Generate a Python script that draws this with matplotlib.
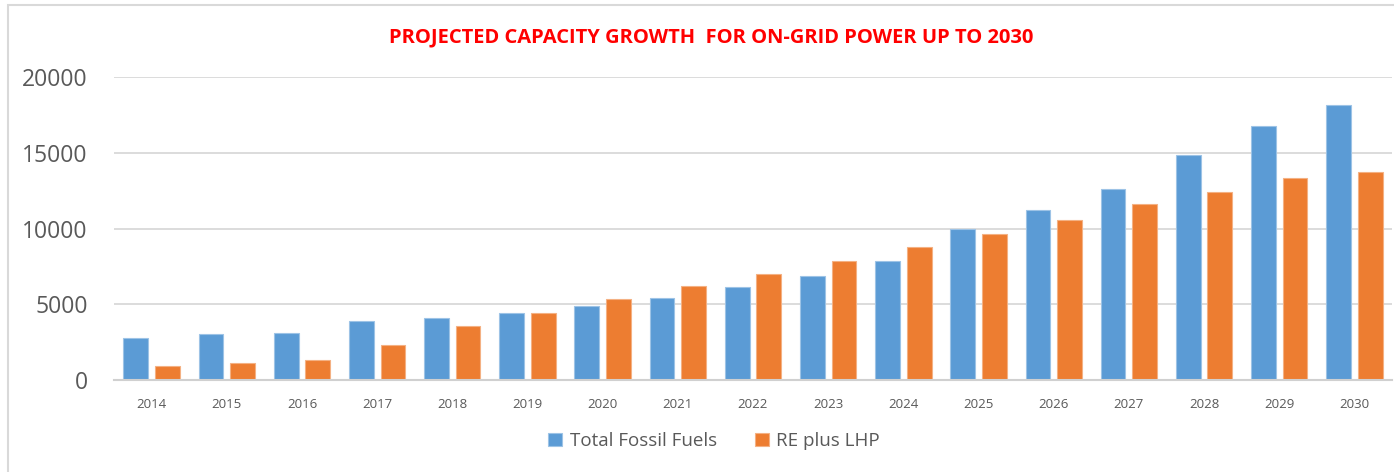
import matplotlib.pyplot as plt
import numpy as np
from matplotlib.patches import Rectangle

# ── Data ────────────────────────────────────────────────────────────────────
years = ['2014', '2015', '2016', '2017', '2018', '2019', '2020', '2021', '2022',
         '2023', '2024', '2025', '2026', '2027', '2028', '2029', '2030']
fossil = [2780, 3020, 3130, 3900, 4110, 4450, 4890, 5440, 6125,
          6895, 7885, 9980, 11195, 12620, 14840, 16735, 18160]
re_lhp = [905, 1125, 1320, 2335, 3560, 4450, 5330, 6210, 7005,
          7885, 8770, 9630, 10535, 11630, 12400, 13305, 13740]

BLUE = '#5B9BD5'
ORANGE = '#ED7D31'
GREY_TXT = '#595959'
FONT = ['Open Sans', 'DejaVu Sans']

# ── Figure ──────────────────────────────────────────────────────────────────
fig = plt.figure(figsize=(13.94, 4.72), dpi=100)
W, H = 1394, 472

# outer chart border (only top/left visible in the crop)
fig.patches.append(Rectangle((8 / W, -0.1), 1.2, (H - 5) / H + 0.1,
                             transform=fig.transFigure, fill=False,
                             edgecolor='#D9D9D9', linewidth=1.5))

ax = fig.add_axes([114 / W, (H - 380) / H, (1392 - 114) / W, 303 / H])

x = np.arange(len(years))
bw = 0.33
off = 0.21
ax.bar(x - off, fossil, bw, color=BLUE, edgecolor='#9DC3E6', linewidth=0.8,
       label='Total Fossil Fuels', zorder=3)
ax.bar(x + off, re_lhp, bw, color=ORANGE, edgecolor='#F4B183', linewidth=0.8,
       label='RE plus LHP', zorder=3)

ax.set_xlim(-0.5, len(years) - 0.5)
ax.set_ylim(0, 20000)
ax.set_yticks([0, 5000, 10000, 15000, 20000])
ax.yaxis.grid(True, color='#D9D9D9', linewidth=1.3, zorder=0)

for s in ['top', 'right', 'left']:
    ax.spines[s].set_visible(False)
ax.spines['bottom'].set_color('#D0D0D0')
ax.spines['bottom'].set_linewidth(1.5)
ax.spines['bottom'].set_zorder(4)

ax.set_xticks(x)
ax.set_xticklabels(years, fontsize=9.5, color=GREY_TXT, family=FONT)
ax.tick_params(axis='x', length=0, pad=13)
ax.tick_params(axis='y', length=0, pad=19, labelsize=16.5, labelcolor=GREY_TXT)
for lab in ax.get_yticklabels():
    lab.set_family(FONT)

# ── Title ───────────────────────────────────────────────────────────────────
fig.text(711 / W, 1 - 37 / H,
         'PROJECTED CAPACITY GROWTH  FOR ON-GRID POWER UP TO 2030',
         color='red', fontsize=14.5, fontweight='bold',
         family=['Liberation Sans Narrow', 'Open Sans', 'DejaVu Sans'],
         ha='center', va='center')

# ── Legend ──────────────────────────────────────────────────────────────────
leg = fig.legend(loc='center', bbox_to_anchor=(714 / W, 1 - 441 / H),
                 ncol=2, frameon=False, handlelength=0.75, handleheight=0.75,
                 handletextpad=0.4, columnspacing=2.0,
                 prop={'family': FONT, 'size': 13.5})
for t in leg.get_texts():
    t.set_color(GREY_TXT)

fig.savefig('out.png', dpi=100)
